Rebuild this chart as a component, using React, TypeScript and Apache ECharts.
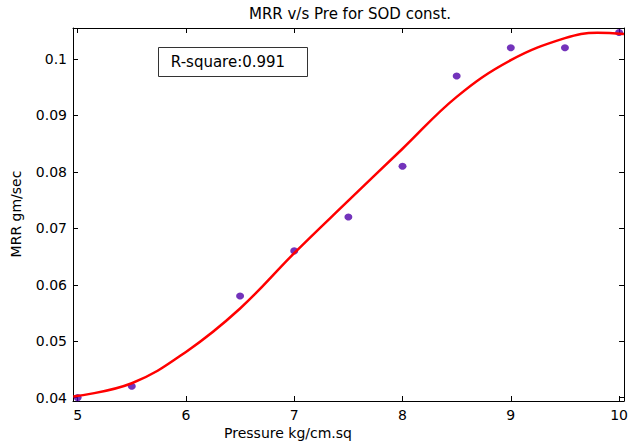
import React, { useEffect, useRef } from "react";
import * as echarts from "echarts";

const pressure = [5, 5.5, 6.5, 7, 7.5, 8, 8.5, 9, 9.5, 10];
const mrr = [0.040, 0.042, 0.058, 0.066, 0.072, 0.081, 0.097, 0.102, 0.102, 0.1047];

const fitPressure = [4.96, 5.5, 6, 6.5, 7, 7.5, 8, 8.5, 9, 9.5, 9.8, 10.045];
const fitMrr = [0.0402, 0.04255, 0.0481, 0.0558, 0.0656, 0.0749, 0.0841, 0.0933, 0.0998, 0.1037, 0.10468, 0.10445];

const xTicks = [5, 6, 7, 8, 9, 10];
const xTickLabels = ["5", "6", "7", "8", "9", "10"];
const yTicks = [0.04, 0.05, 0.06, 0.07, 0.08, 0.09, 0.1];
const yTickLabels = ["0.04", "0.05", "0.06", "0.07", "0.08", "0.09", "0.1"];

const titleText = "MRR v/s Pre for SOD const.";
const xName = "Pressure kg/cm.sq";
const yName = "MRR gm/sec";
const rSquareText = "R-square:0.991";

const FONT = "DejaVu Sans";

function labelFor(v: number, ticks: number[], labels: string[]) {
  let best = 0;
  for (let i = 0; i < ticks.length; i++) {
    if (Math.abs(ticks[i] - v) < Math.abs(ticks[best] - v)) best = i;
  }
  return labels[best];
}

export default function App() {
  const ref = useRef<HTMLDivElement>(null);
  useEffect(() => {
    if (!ref.current) return;
    const chart = echarts.init(ref.current, undefined, { renderer: "svg" });
    const axisCommon = {
      axisLine: { show: true, onZero: false, lineStyle: { color: "#000", width: 1 } },
      splitLine: { show: false },
    };
    chart.setOption({
      animation: false,
      backgroundColor: "#fff",
      grid: { left: 73, right: 6, top: 28, bottom: 45, containLabel: false },
      xAxis: [
        {
          type: "value",
          min: 4.957,
          max: 10.046,
          position: "bottom",
          ...axisCommon,
          axisTick: { show: true, inside: true, length: 5, customValues: xTicks, lineStyle: { color: "#000" } },
          axisLabel: {
            show: true,
            customValues: xTicks,
            margin: 7,
            color: "#000",
            fontFamily: FONT,
            fontSize: 14,
            formatter: (v: number) => labelFor(v, xTicks, xTickLabels),
          },
        },
        {
          type: "value",
          min: 4.957,
          max: 10.046,
          position: "top",
          ...axisCommon,
          axisTick: { show: true, inside: true, length: 5, customValues: xTicks, lineStyle: { color: "#000" } },
          axisLabel: { show: false },
        },
      ],
      yAxis: [
        {
          type: "value",
          min: 0.0394,
          max: 0.1055,
          position: "left",
          ...axisCommon,
          axisTick: { show: true, inside: true, length: 5, customValues: yTicks, lineStyle: { color: "#000" } },
          axisLabel: {
            show: true,
            customValues: yTicks,
            margin: 6,
            color: "#000",
            fontFamily: FONT,
            fontSize: 14,
            formatter: (v: number) => labelFor(v, yTicks, yTickLabels),
          },
        },
        {
          type: "value",
          min: 0.0394,
          max: 0.1055,
          position: "right",
          ...axisCommon,
          axisTick: { show: true, inside: true, length: 5, customValues: yTicks, lineStyle: { color: "#000" } },
          axisLabel: { show: false },
        },
      ],
      graphic: [
        {
          type: "text",
          x: 350,
          y: 14,
          style: {
            text: titleText,
            fill: "#000",
            font: `15px "${FONT}"`,
            textAlign: "center",
            textVerticalAlign: "middle",
          },
        },
        {
          type: "text",
          x: 288,
          y: 433,
          style: {
            text: xName,
            fill: "#000",
            font: `14px "${FONT}"`,
            textAlign: "center",
            textVerticalAlign: "middle",
          },
        },
        {
          type: "text",
          x: 16,
          y: 214,
          rotation: Math.PI / 2,
          style: {
            text: yName,
            fill: "#000",
            font: `14px "${FONT}"`,
            textAlign: "center",
            textVerticalAlign: "middle",
          },
        },
        {
          type: "rect",
          shape: { x: 158.5, y: 47.5, width: 149, height: 29 },
          style: { fill: "#fff", stroke: "#333", lineWidth: 1 },
          z: 100,
        },
        {
          type: "text",
          x: 228,
          y: 62,
          z: 101,
          style: {
            text: rSquareText,
            fill: "#000",
            font: `15px "${FONT}"`,
            textAlign: "center",
            textVerticalAlign: "middle",
          },
        },
      ],
      series: [
        {
          type: "scatter",
          data: pressure.map((p, i) => [p, mrr[i]]),
          symbol: "circle",
          symbolSize: [8, 7],
          itemStyle: { color: "#5000aa" },
          z: 3,
          clip: false,
        },
        {
          type: "line",
          data: fitPressure.map((p, i) => [p, fitMrr[i]]),
          smooth: 0.4,
          showSymbol: false,
          symbol: "none",
          lineStyle: { color: "#ff0000", width: 2.5 },
          z: 4,
        },
      ],
    });
    return () => chart.dispose();
  }, []);
  return (
    <div
      ref={ref}
      style={{ position: "fixed", left: 0, top: 0, width: 631, height: 446 }}
    />
  );
}
